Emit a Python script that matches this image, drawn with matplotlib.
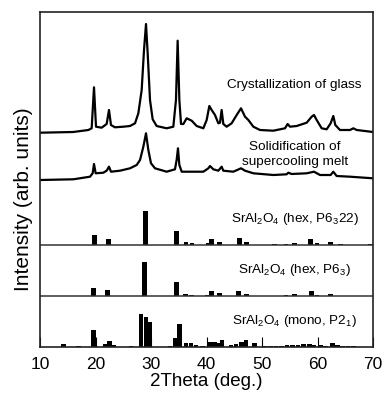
import matplotlib
matplotlib.use("Agg")
import matplotlib.pyplot as plt
import numpy as np

plt.rcParams['font.family'] = ['Liberation Sans', 'DejaVu Sans']
plt.rcParams['mathtext.fontset'] = 'custom'
plt.rcParams['mathtext.rm'] = 'Liberation Sans'
plt.rcParams['mathtext.it'] = 'Liberation Sans'

# ---- XRD pattern: crystallization of glass (2theta, intensity in plot units)
glass_tt = [10.0, 16.0, 18.71, 19.31, 19.73, 20.09, 21.11, 22.01, 22.43, 22.79, 23.51,
            25.02, 26.22, 27.12, 27.72, 28.32, 28.74, 29.10, 29.40, 29.82, 30.30, 31.02,
            32.82, 34.02, 34.50, 34.80, 35.11, 35.41, 35.83, 36.43, 37.33, 38.23, 39.43,
            40.03, 40.51, 40.93, 41.53, 42.13, 42.43, 42.73, 43.03, 43.63, 44.53, 45.44,
            46.22, 46.94, 47.54, 48.44, 49.64, 52.04, 54.14, 54.62, 55.05, 56.25, 58.05,
            58.95, 59.37, 59.85, 60.75, 61.65, 62.37, 62.85, 63.21, 64.05, 65.86, 66.46,
            67.06, 70.0]
glass_I = [214.3, 215.0, 217.0, 218.7, 259.7, 220.3, 219.3, 223.0, 237.0, 222.0, 219.7,
           220.3, 221.0, 223.7, 233.7, 257.0, 297.0, 323.0, 293.7, 247.0, 227.7, 221.0,
           218.7, 220.3, 247.0, 306.3, 247.0, 223.0, 223.0, 228.7, 226.3, 221.0, 218.7,
           227.0, 241.0, 237.0, 232.0, 223.7, 224.3, 237.0, 223.0, 220.3, 223.7, 232.0,
           238.7, 230.3, 227.0, 220.3, 217.0, 216.3, 218.7, 223.0, 220.3, 221.0, 224.3,
           230.3, 232.0, 227.0, 218.7, 217.7, 223.7, 231.0, 222.0, 217.0, 217.0, 218.7,
           217.0, 215.0]

# ---- XRD pattern: solidification of supercooling melt
melt_tt = [10.0, 16.0, 19.01, 19.49, 19.73, 20.03, 21.41, 22.01, 22.43, 22.79, 24.41,
           26.22, 27.42, 28.02, 28.62, 29.10, 29.52, 30.0, 30.72, 32.82, 34.32, 34.62,
           34.86, 35.11, 35.53, 37.03, 39.43, 40.33, 40.63, 41.23, 42.13, 42.73, 43.03,
           44.83, 46.22, 46.94, 48.44, 52.04, 54.44, 54.74, 55.35, 58.05, 59.37, 60.45,
           62.37, 62.85, 63.45, 65.86, 70.0]
melt_I = [167.0, 167.7, 170.3, 173.7, 183.0, 173.7, 174.3, 176.3, 180.3, 175.3, 176.3,
          178.7, 182.0, 187.0, 200.3, 213.7, 197.0, 183.7, 178.7, 175.3, 177.7, 187.0,
          198.7, 182.0, 175.3, 175.3, 175.3, 178.7, 181.0, 177.7, 176.3, 180.3, 176.3,
          175.3, 178.7, 176.3, 173.7, 172.0, 172.7, 174.3, 173.0, 173.7, 175.3, 172.0,
          172.0, 175.3, 171.0, 170.3, 168.7]

# ---- Reference sticks: SrAl2O4 hex P6322
hex622_tt = [19.8, 22.3, 29.0, 34.6, 36.3, 37.4, 40.3, 40.9, 42.3, 45.9, 47.2, 52.2,
             54.3, 55.9, 58.8, 59.9, 62.4, 64.2, 69.6]
hex622_I = [10, 6, 34, 14, 3, 2, 2, 6, 3, 7, 3, 1, 1, 2, 6, 2, 3, 1, 1]

# ---- SrAl2O4 hex P63
hex63_tt = [19.6, 22.2, 28.8, 34.6, 36.2, 37.3, 40.2, 40.9, 42.4, 45.8, 47.2, 52.2,
            54.3, 55.9, 58.9, 59.9, 62.4, 64.3]
hex63_I = [8.5, 6, 34, 14, 2, 1.5, 1.5, 5, 3, 5.5, 2.5, 0.5, 0.7, 2, 5, 1.5, 2.5, 0.5]

# ---- SrAl2O4 mono P21
mono_tt = [14.2, 16.9, 19.7, 21.8, 22.5, 23.2, 26.4, 28.2, 29.1, 29.8, 33.4, 34.4, 35.1,
           36.3, 37.2, 38.1, 39.3, 40.5, 41.4, 42.0, 42.8, 44.4, 45.3, 46.3, 47.1, 48.6,
           50.4, 51.5, 52.5, 53.5, 54.5, 55.5, 56.5, 57.5, 58.5, 59.3, 60.5, 61.5, 62.7,
           63.6, 64.5, 65.5, 66.5]
mono_I = [2.7, 1, 17, 3, 6, 2, 1, 33, 30, 25.3, 1, 9, 22.7, 4, 4.5, 2, 1, 5, 5, 4, 7, 2,
          3, 5, 7, 4, 1.5, 1, 1.5, 1.5, 2, 2, 2.5, 3, 3, 2.5, 2, 1.5, 4, 2, 1, 1, 1]

xticks = [10, 20, 30, 40, 50, 60, 70]
labels_curves = ["Crystallization of glass", "Solidification of\nsupercooling melt"]
labels_sticks = [r"SrAl$_2$O$_4$ (hex, P6$_3$22)", r"SrAl$_2$O$_4$ (hex, P6$_3$)",
                 r"SrAl$_2$O$_4$ (mono, P2$_1$)"]

W, H = 385, 394
fig = plt.figure(figsize=(W / 100, H / 100), dpi=100)
L, R, T, B = 40, 373, 12, 347
ax = fig.add_axes([L / W, (H - B) / H, (R - L) / W, (B - T) / H])
ax.set_xlim(10, 70)
ax.set_ylim(0, B - T)

ax.plot(glass_tt, glass_I, color='black', lw=1.6, solid_joinstyle='round')
ax.plot(melt_tt, melt_I, color='black', lw=1.6, solid_joinstyle='round')

panel_base = [102, 51, 0]
for base, tt, inten in zip(panel_base, [hex622_tt, hex63_tt, mono_tt],
                           [hex622_I, hex63_I, mono_I]):
    ax.bar(tt, inten, width=0.85, bottom=base, color='black', linewidth=0)

for base in panel_base[:2]:
    ax.axhline(base, color='#333333', lw=1.1)

xc = 55.9
ax.text(xc, 262, labels_curves[0], ha='center', va='center', fontsize=9.7)
ax.text(xc, 192.5, labels_curves[1], ha='center', va='center', fontsize=9.7,
        linespacing=1.25)
for base, lab in zip(panel_base, labels_sticks):
    ax.text(xc, base + 26, lab, ha='center', va='center', fontsize=9.7)

ax.set_xticks(xticks)
ax.set_yticks([])
ax.tick_params(axis='x', direction='in', length=7, width=0.8, labelsize=12.5, pad=7)
for s in ax.spines.values():
    s.set_linewidth(1.2)
    s.set_color('#222222')

ax.set_xlabel("2Theta (deg.)", fontsize=13.5, labelpad=1)
fig.text(24 / W, 1 - 199 / H, "Intensity (arb. units)", rotation=90, ha='center',
         va='center', fontsize=15)

fig.savefig("out.png", dpi=100)
